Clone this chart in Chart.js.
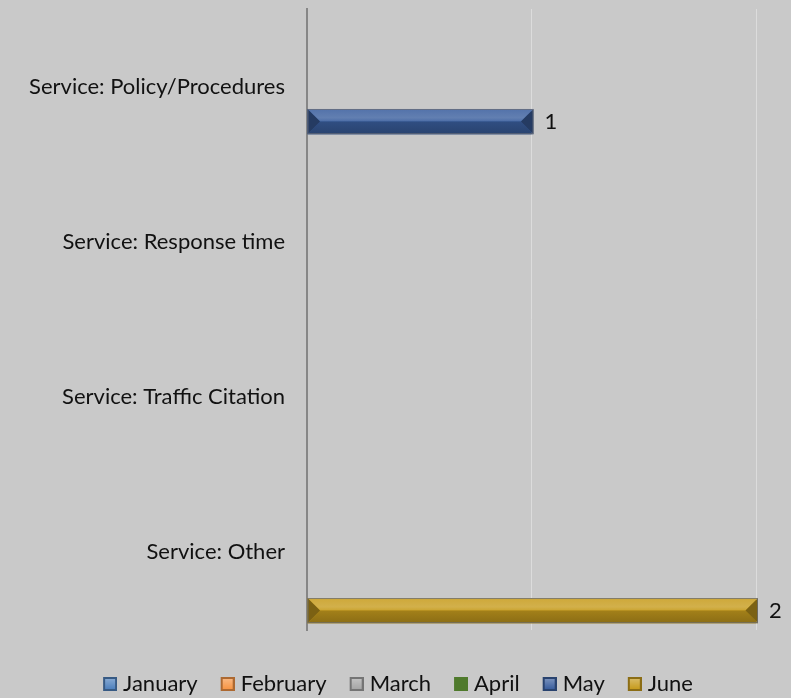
<!DOCTYPE html>
<html>
<head>
<meta charset="utf-8">
<script src="https://cdn.jsdelivr.net/npm/chart.js@4/dist/chart.umd.min.js"></script>
<style>
  html, body { margin: 0; padding: 0; background: #c9c9c9; }
  #wrap { position: relative; width: 791px; height: 698px; }
</style>
</head>
<body>
<div id="wrap"><canvas id="chart"></canvas></div>
<script>
const categories = ['Service: Policy/Procedures', 'Service: Response time', 'Service: Traffic Citation', 'Service: Other'];
const months = ['January', 'February', 'March', 'April', 'May', 'June'];
const january = [0, 0, 0, 0];
const february = [0, 0, 0, 0];
const march = [0, 0, 0, 0];
const april = [0, 0, 0, 0];
const may = [1, 0, 0, 0];
const june = [0, 0, 0, 2];
const xTicks = [0, 1, 2];

const seriesValues = [january, february, march, april, may, june];
const seriesColors = ['#4f81bd', '#f79646', '#a6a6a6', '#4f7a2c', '#3b5f9e', '#c79c1e'];
const flatSeries = [false, false, false, true, false, false];
const FONT = 'Lato';

// mix a hex colour toward white (amt > 0) or black (amt < 0)
function shade(hex, amt) {
  const n = parseInt(hex.slice(1), 16);
  const t = amt < 0 ? 0 : 255, p = Math.abs(amt);
  const ch = [n >> 16, (n >> 8) & 255, n & 255].map(v => Math.round(v + (t - v) * p));
  return `rgb(${ch[0]},${ch[1]},${ch[2]})`;
}

// legend marker: 14px bevelled square sitting at the right of a 24px canvas,
// so the text ends up close to the square
function legendIcon(color, flat) {
  const c = document.createElement('canvas');
  c.width = 24; c.height = 14;
  const g = c.getContext('2d');
  const x0 = 10;
  if (flat) {
    g.fillStyle = color;
    g.fillRect(x0, 0, 14, 14);
    return c;
  }
  g.fillStyle = shade(color, -0.3);
  g.fillRect(x0, 0, 14, 14);
  const grad = g.createLinearGradient(0, 2, 0, 12);
  grad.addColorStop(0, shade(color, 0.3));
  grad.addColorStop(1, color);
  g.fillStyle = grad;
  g.fillRect(x0 + 2, 2, 10, 10);
  return c;
}
const legendIcons = seriesColors.map((c, i) => legendIcon(c, flatSeries[i]));

function poly(ctx, pts, fill) {
  ctx.beginPath();
  ctx.moveTo(pts[0][0], pts[0][1]);
  for (let k = 1; k < pts.length; k++) ctx.lineTo(pts[k][0], pts[k][1]);
  ctx.closePath();
  ctx.fillStyle = fill;
  ctx.fill();
}

// paints the bevel faces over each bar, then its value to the right
const bevelBars = {
  id: 'bevelBars',
  afterDatasetsDraw(chart) {
    const ctx = chart.ctx;
    ctx.save();
    chart.data.datasets.forEach((ds, di) => {
      const meta = chart.getDatasetMeta(di);
      if (meta.hidden) return;
      const base = seriesColors[di];
      meta.data.forEach((bar, i) => {
        const v = ds.data[i];
        if (!v) return;
        const p = bar.getProps(['x', 'y', 'base', 'height'], true);
        const l = Math.min(p.base, p.x), r = Math.max(p.base, p.x) + 2;
        const t = p.y - p.height / 2, bt = p.y + p.height / 2, mid = p.y;
        const b = Math.min(p.height / 2, (r - l) / 2);

        let g = ctx.createLinearGradient(0, t, 0, mid);
        g.addColorStop(0, shade(base, 0.12));
        g.addColorStop(0.7, shade(base, 0.2));
        g.addColorStop(1, shade(base, 0.08));
        poly(ctx, [[l, t], [r, t], [r - b, mid], [l + b, mid]], g);

        g = ctx.createLinearGradient(0, mid, 0, bt);
        g.addColorStop(0, shade(base, -0.18));
        g.addColorStop(1, shade(base, -0.3));
        poly(ctx, [[l, bt], [r, bt], [r - b, mid], [l + b, mid]], g);

        const endCol = shade(base, -0.38);
        poly(ctx, [[l, t], [l + b, mid], [l, bt]], endCol);
        poly(ctx, [[r, t], [r - b, mid], [r, bt]], endCol);

        ctx.strokeStyle = 'rgba(105,110,120,0.75)';
        ctx.lineWidth = 1;
        ctx.strokeRect(l + 0.5, t + 0.5, r - l - 1, bt - t - 1);

        ctx.fillStyle = '#111';
        ctx.font = `22px ${FONT}`;
        ctx.textAlign = 'left';
        ctx.textBaseline = 'middle';
        ctx.fillText(String(v), p.x + 13, p.y);
      });
    });
    ctx.restore();
  }
};

// nudge the legend row so it sits centred under the whole canvas
const legendCentre = {
  id: 'legendCentre',
  afterLayout(chart) {
    const lg = chart.legend;
    if (!lg) return;
    const shift = (chart.width - (lg.left + lg.right)) / 2;
    lg.left += shift;
    lg.right += shift;
  }
};

function build() {
  new Chart(document.getElementById('chart'), {
    type: 'bar',
    data: {
      labels: categories,
      datasets: seriesValues.map((vals, i) => ({
        label: months[i],
        data: vals,
        backgroundColor: seriesColors[i],
        borderWidth: 0,
        categoryPercentage: 0.9,
        barPercentage: 1.08
      }))
    },
    options: {
      indexAxis: 'y',
      responsive: true,
      maintainAspectRatio: false,
      animation: false,
      layout: { padding: { top: 9, right: 35, bottom: -7, left: 20 } },
      scales: {
        x: {
          min: 0,
          max: 2,
          afterBuildTicks: s => { s.ticks = xTicks.map(v => ({ value: v })); },
          ticks: { display: false },
          grid: { color: '#dcdcdc', lineWidth: 1, drawTicks: false },
          border: { display: false },
          afterFit: s => { s.height = 25; }
        },
        y: {
          grid: { display: false, drawTicks: false },
          border: { color: '#868686', width: 2 },
          ticks: { color: '#111', font: { family: FONT, size: 22 }, padding: 22 },
          afterFit: s => {
            s.width = 287;
            s.paddingTop = 0;
            s.paddingBottom = 0;
          }
        }
      },
      plugins: {
        legend: {
          position: 'bottom',
          labels: {
            usePointStyle: true,
            boxWidth: 14,
            boxHeight: 14,
            padding: 18,
            color: '#111',
            font: { family: FONT, size: 22 },
            generateLabels(chart) {
              const items = Chart.defaults.plugins.legend.labels.generateLabels(chart);
              items.forEach((it, i) => { it.pointStyle = legendIcons[i]; });
              return items;
            }
          }
        },
        tooltip: { enabled: false }
      }
    },
    plugins: [bevelBars, legendCentre]
  });
}

if (document.fonts && document.fonts.load) {
  document.fonts.load(`22px ${FONT}`).then(build, build);
} else {
  build();
}
</script>
</body>
</html>
